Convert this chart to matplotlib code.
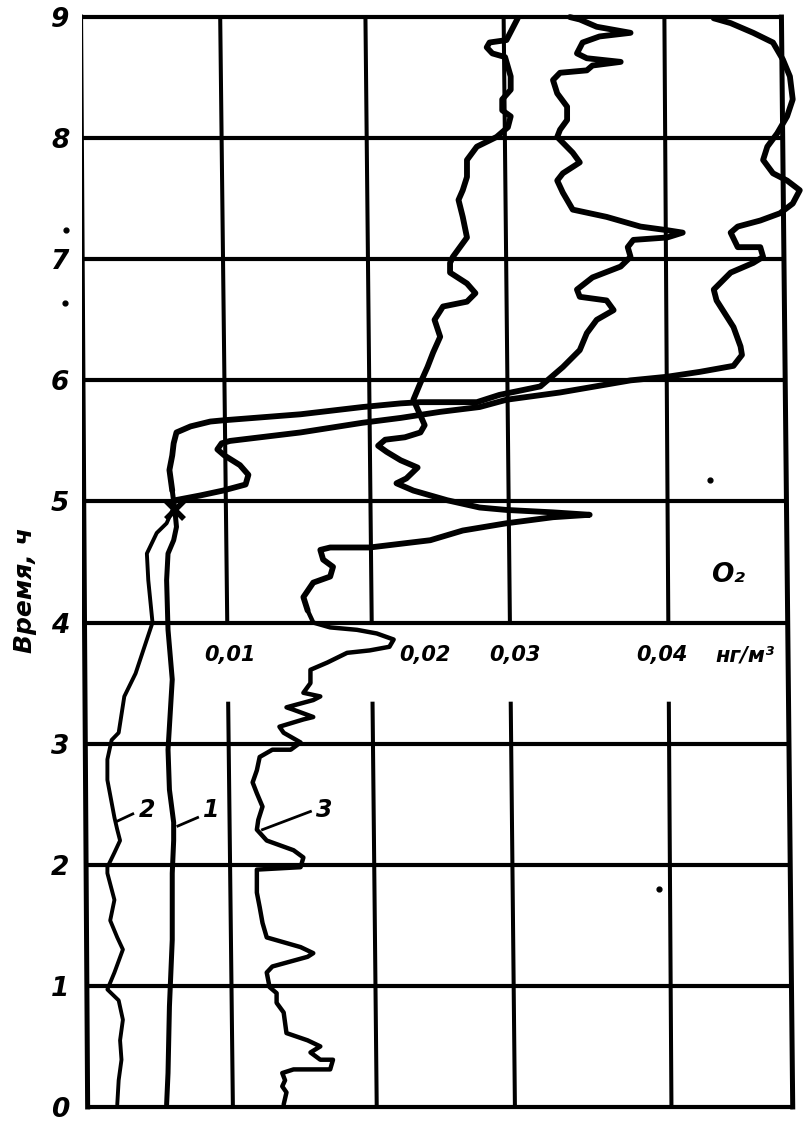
import numpy as np
import matplotlib.pyplot as plt

# time axis (hours) and horizontal chart units (one grid column ~ 1 unit)
hours = [0, 1, 2, 3, 4, 5, 6, 7, 8, 9]
hour_labels = [str(h) for h in hours]

# vertical grid lines (position at bottom h=0 and at top h=9; scan is slightly skewed)
vline_bottom = [0.04, 1.07, 2.09, 3.07, 4.18, 5.04]
vline_top = [-0.01, 0.98, 2.01, 2.99, 4.13, 4.96]
gap_low, gap_high = 3.33, 4.0   # label strip without inner grid lines

conc_labels = ["0,01", "0,02", "0,03", "0,04", "нг/м³"]
conc_x = [1.05, 2.43, 3.07, 4.11, 4.70]
conc_h = 3.73

# curve 1
c1_x = [0.60, 0.61, 0.62, 0.64, 0.64, 0.65, 0.65, 0.62, 0.61, 0.64, 0.61, 0.60, 0.61, 0.65, 0.67, 0.66,
        0.64, 0.62, 0.64, 0.65, 0.67, 0.77, 0.91, 1.00, 1.55, 1.99, 2.26, 2.40, 2.80, 2.96, 3.25, 3.30,
        3.41, 3.53, 3.58, 3.65, 3.77, 3.72, 3.53, 3.51, 3.62, 3.82, 3.89, 3.87, 3.91, 4.15, 4.26, 4.15,
        3.96, 3.72, 3.48, 3.44, 3.41, 3.37, 3.41, 3.53, 3.48, 3.37, 3.39, 3.44, 3.44, 3.37, 3.34, 3.39,
        3.58, 3.62, 3.82, 3.58, 3.51, 3.55, 3.67, 3.89, 3.65, 3.53, 3.46]
c1_h = [0.02, 0.28, 0.83, 1.38, 1.93, 2.20, 2.35, 2.62, 2.95, 3.53, 3.94, 4.35, 4.57, 4.68, 4.79, 4.91,
        5.09, 5.26, 5.38, 5.48, 5.57, 5.62, 5.66, 5.67, 5.72, 5.78, 5.81, 5.82, 5.82, 5.88, 5.95, 6.00,
        6.11, 6.25, 6.39, 6.50, 6.58, 6.66, 6.69, 6.75, 6.85, 6.94, 7.02, 7.10, 7.16, 7.18, 7.22, 7.24,
        7.27, 7.35, 7.41, 7.49, 7.55, 7.65, 7.71, 7.80, 7.88, 8.01, 8.07, 8.15, 8.26, 8.37, 8.48, 8.54,
        8.56, 8.60, 8.63, 8.66, 8.70, 8.79, 8.84, 8.87, 8.92, 8.98, 9.00]
c1_split = 16   # thin lower part ends here

# curve 2
c2_x = [0.25, 0.26, 0.28, 0.27, 0.29, 0.26, 0.18, 0.23, 0.29, 0.25, 0.20, 0.23, 0.18, 0.18, 0.23, 0.27,
        0.25, 0.23, 0.18, 0.18, 0.21, 0.26, 0.30, 0.38, 0.46, 0.50, 0.47, 0.46, 0.53, 0.60, 0.65,
        0.66, 0.84, 1.00, 1.16, 1.18, 1.12, 1.01, 0.96, 0.99, 1.05, 1.55, 1.99, 2.26, 2.54, 2.82, 3.01,
        3.39, 3.89, 4.15, 4.38, 4.62, 4.68, 4.67, 4.62, 4.50, 4.48, 4.60, 4.76, 4.83, 4.81, 4.65, 4.60,
        4.65, 4.81, 4.95, 5.04, 5.09, 5.00, 4.90, 4.83, 4.86, 4.93, 5.00, 5.04, 5.02, 4.97, 4.90, 4.76,
        4.60, 4.48]
c2_h = [0.02, 0.22, 0.39, 0.55, 0.72, 0.88, 0.97, 1.11, 1.30, 1.40, 1.54, 1.71, 1.93, 1.98, 2.10, 2.20,
        2.29, 2.39, 2.70, 2.87, 3.03, 3.09, 3.39, 3.58, 3.86, 4.00, 4.35, 4.57, 4.74, 4.82, 4.95,
        5.01, 5.05, 5.09, 5.14, 5.22, 5.30, 5.38, 5.43, 5.48, 5.50, 5.57, 5.65, 5.69, 5.74, 5.78, 5.84,
        5.90, 6.00, 6.03, 6.07, 6.12, 6.21, 6.28, 6.44, 6.66, 6.75, 6.89, 6.97, 7.02, 7.10, 7.10, 7.22,
        7.27, 7.32, 7.38, 7.46, 7.57, 7.65, 7.71, 7.82, 7.93, 8.04, 8.18, 8.32, 8.51, 8.65, 8.79, 8.87,
        8.95, 8.99]
c2_split = 31

# curve 3
c3_x = [1.43, 1.45, 1.42, 1.44, 1.42, 1.50, 1.76, 1.78, 1.69, 1.62, 1.69, 1.60, 1.45, 1.43, 1.38, 1.38,
        1.33, 1.31, 1.35, 1.60, 1.64, 1.55, 1.31, 1.28, 1.26, 1.24, 1.24, 1.24, 1.55, 1.57, 1.50, 1.31,
        1.24, 1.25, 1.28, 1.24, 1.21, 1.24, 1.26, 1.35, 1.48, 1.55, 1.43, 1.40, 1.57, 1.64, 1.50, 1.45,
        1.64, 1.69, 1.57, 1.62, 1.62, 1.74, 1.88, 2.04, 2.18, 2.21, 2.09, 1.95, 1.76, 1.64, 1.60, 1.57,
        1.64, 1.76, 1.78, 1.71, 1.69, 1.76, 2.04, 2.47, 2.70, 3.01, 3.34, 3.60, 3.34, 3.01, 2.82, 2.59,
        2.35, 2.23, 2.30, 2.38, 2.26, 2.16, 2.10, 2.15, 2.29, 2.40, 2.43, 2.40, 2.35, 2.40, 2.45, 2.49,
        2.54, 2.50, 2.56, 2.73, 2.79, 2.73, 2.61, 2.61, 2.63, 2.73, 2.70, 2.67, 2.70, 2.73, 2.73, 2.80,
        2.94, 3.02, 3.04, 2.98, 2.98, 3.04, 3.04, 3.00, 2.91, 2.87, 2.89, 3.01, 3.09]
c3_h = [0.02, 0.12, 0.17, 0.22, 0.28, 0.31, 0.31, 0.39, 0.39, 0.45, 0.50, 0.55, 0.61, 0.78, 0.86, 0.94,
        0.99, 1.11, 1.16, 1.24, 1.27, 1.32, 1.40, 1.52, 1.65, 1.77, 1.87, 1.96, 1.98, 2.06, 2.12, 2.20,
        2.29, 2.37, 2.48, 2.59, 2.68, 2.78, 2.89, 2.95, 2.95, 3.01, 3.09, 3.14, 3.20, 3.22, 3.28, 3.30,
        3.36, 3.39, 3.42, 3.50, 3.61, 3.67, 3.75, 3.77, 3.80, 3.86, 3.91, 3.94, 3.96, 4.00, 4.10, 4.21,
        4.33, 4.38, 4.46, 4.52, 4.60, 4.62, 4.62, 4.68, 4.76, 4.82, 4.87, 4.89, 4.91, 4.93, 4.95, 5.01,
        5.09, 5.15, 5.19, 5.28, 5.34, 5.41, 5.46, 5.51, 5.53, 5.57, 5.63, 5.71, 5.84, 5.98, 6.11, 6.23,
        6.36, 6.50, 6.61, 6.65, 6.72, 6.80, 6.89, 6.97, 7.02, 7.18, 7.35, 7.49, 7.57, 7.68, 7.82, 7.93,
        8.01, 8.09, 8.18, 8.23, 8.32, 8.40, 8.51, 8.67, 8.70, 8.75, 8.79, 8.81, 8.99]
c3_split = 62

# curve number labels with leader lines
curve_names = ["2", "1", "3"]
name_x = [0.46, 0.92, 1.72]
name_h = [2.45, 2.45, 2.45]
leader_x = [[0.25, 0.36], [0.68, 0.82], [1.28, 1.62]]
leader_h = [[2.36, 2.42], [2.32, 2.39], [2.29, 2.44]]

# junction mark and scan specks
cross_x, cross_h = 0.66, 4.93
speck_x = [-0.11, -0.12, 4.45, 4.09]
speck_h = [7.24, 6.64, 5.18, 1.80]

fig = plt.figure(figsize=(8.04, 11.21), dpi=100)
ax = fig.add_axes([82 / 804, 0, 1 - 82 / 804, 1])
ax.set_xlim(0, 5.12)
ax.set_ylim(-0.116, 9.141)
for s in ax.spines.values():
    s.set_visible(False)

def vx(i, h):
    return vline_bottom[i] + (vline_top[i] - vline_bottom[i]) * h / 9

# grid
for h in hours:
    ax.plot([vx(0, h), vx(5, h)], [h, h], color="black", lw=3.0, solid_capstyle="butt", zorder=2)
for i in range(6):
    if i in (0, 5):
        ax.plot([vx(i, 0), vx(i, 9)], [0, 9], color="black", lw=3.6, zorder=2)
    else:
        ax.plot([vx(i, 0), vx(i, gap_low)], [0, gap_low], color="black", lw=2.9, zorder=2)
        ax.plot([vx(i, gap_high), vx(i, 9)], [gap_high, 9], color="black", lw=2.9, zorder=2)

kw = dict(color="black", solid_capstyle="round", solid_joinstyle="round", zorder=3)
ax.plot(c1_x[:c1_split + 1], c1_h[:c1_split + 1], lw=3.6, **kw)
ax.plot(c1_x[c1_split:], c1_h[c1_split:], lw=4.2, **kw)
ax.plot(c2_x[:c2_split + 1], c2_h[:c2_split + 1], lw=2.8, **kw)
ax.plot(c2_x[c2_split:], c2_h[c2_split:], lw=4.2, **kw)
ax.plot(c3_x[:c3_split + 1], c3_h[:c3_split + 1], lw=3.2, **kw)
ax.plot(c3_x[c3_split:], c3_h[c3_split:], lw=4.2, **kw)

ax.plot(cross_x, cross_h, marker="x", ms=13, mew=4, color="black", zorder=4)
ax.scatter(speck_x, speck_h, s=12, color="black", zorder=4, clip_on=False)

for name, x, h, lx, lh in zip(curve_names, name_x, name_h, leader_x, leader_h):
    ax.plot(lx, lh, color="black", lw=2.0, zorder=3)
    ax.text(x, h, name, fontsize=17, style="italic", fontweight="bold", ha="center", va="center")

for lab, x in zip(conc_labels, conc_x):
    ax.text(x, conc_h, lab, fontsize=15, style="italic", fontweight="bold", ha="center", va="center")

ax.text(4.58, 4.39, "O₂", fontsize=19, style="italic", fontweight="bold", ha="center", va="center")

ax.set_xticks([])
ax.set_yticks(hours)
ax.set_yticklabels(hour_labels, fontsize=19, style="italic", fontweight="bold")
ax.tick_params(axis="y", length=0, pad=9)

fig.text(25 / 804, 1 - 590 / 1121, "Время, ч", rotation=90, fontsize=18, style="italic",
         fontweight="bold", ha="center", va="center")

fig.savefig("out.png", dpi=100)
